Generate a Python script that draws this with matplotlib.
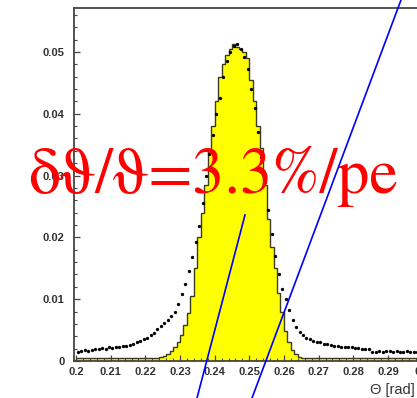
import numpy as np
import matplotlib
matplotlib.use('Agg')
import matplotlib.pyplot as plt
from matplotlib.lines import Line2D

# Cherenkov angle distribution, 1 mrad bins from 0.200 to 0.300 rad
theta_lo = 0.200
theta_hi = 0.300

# yellow histogram (single photon, selected)
hist_vals = [
    0.0005, 0.0005, 0.0005, 0.0005, 0.0005, 0.0005, 0.0005, 0.0005, 0.0005, 0.0005,  # 0.200
    0.0005, 0.0005, 0.0005, 0.0005, 0.0005, 0.0005, 0.0005, 0.0005, 0.0005, 0.0005,  # 0.210
    0.0005, 0.0005, 0.0005, 0.0005, 0.0006, 0.0008, 0.0012, 0.0016, 0.0022, 0.0030,  # 0.220
    0.0042, 0.0058, 0.0078, 0.0105, 0.0150, 0.0200, 0.0240, 0.0285, 0.0340, 0.0380,  # 0.230
    0.0420, 0.0460, 0.0480, 0.0495, 0.0505, 0.0513, 0.0508, 0.0505, 0.0500, 0.0490,  # 0.240
    0.0455, 0.0420, 0.0380, 0.0345, 0.0285, 0.0230, 0.0185, 0.0150, 0.0110, 0.0080,  # 0.250
    0.0048, 0.0030, 0.0018, 0.0011, 0.0007, 0.0005, 0.0005, 0.0005, 0.0005, 0.0005,  # 0.260
    0.0005, 0.0005, 0.0005, 0.0005, 0.0005, 0.0005, 0.0005, 0.0005, 0.0005, 0.0005,  # 0.270
    0.0005, 0.0005, 0.0005, 0.0005, 0.0005, 0.0005, 0.0005, 0.0005, 0.0005, 0.0005,  # 0.280
    0.0005, 0.0005, 0.0005, 0.0005, 0.0005, 0.0005, 0.0005, 0.0005, 0.0005, 0.0005,  # 0.290
]

# black points (all photons)
dot_vals = [
    0.0015, 0.0016, 0.0017, 0.0016, 0.0018, 0.0019, 0.0020, 0.0021, 0.0020, 0.0022,  # 0.200
    0.0021, 0.0023, 0.0022, 0.0024, 0.0025, 0.0026, 0.0028, 0.0030, 0.0033, 0.0036,  # 0.210
    0.0038, 0.0042, 0.0046, 0.0051, 0.0056, 0.0061, 0.0066, 0.0072, 0.0080, 0.0092,  # 0.220
    0.0108, 0.0125, 0.0145, 0.0168, 0.0192, 0.0218, 0.0255, 0.0300, 0.0335, 0.0365,  # 0.230
    0.0400, 0.0425, 0.0460, 0.0485, 0.0500, 0.0510, 0.0512, 0.0505, 0.0492, 0.0472,  # 0.240
    0.0440, 0.0410, 0.0370, 0.0330, 0.0290, 0.0245, 0.0205, 0.0170, 0.0140, 0.0117,  # 0.250
    0.0100, 0.0082, 0.0066, 0.0055, 0.0047, 0.0042, 0.0038, 0.0035, 0.0033, 0.0031,  # 0.260
    0.0030, 0.0028, 0.0027, 0.0026, 0.0025, 0.0024, 0.0023, 0.0023, 0.0022, 0.0022,  # 0.270
    0.0021, 0.0021, 0.0020, 0.0020, 0.0019, 0.0015, 0.0015, 0.0016, 0.0015, 0.0016,  # 0.280
    0.0016, 0.0015, 0.0016, 0.0015, 0.0015, 0.0016, 0.0015, 0.0015, 0.0015, 0.0015,  # 0.290
]

x_ticks = [0.20, 0.21, 0.22, 0.23, 0.24, 0.25, 0.26, 0.27, 0.28, 0.29, 0.30]
x_ticklabels = ['0.2', '0.21', '0.22', '0.23', '0.24', '0.25', '0.26', '0.27', '0.28', '0.29', '0.3']
y_ticks = [0, 0.01, 0.02, 0.03, 0.04, 0.05]
y_ticklabels = ['0', '0.01', '0.02', '0.03', '0.04', '0.05']

resolution_text = 'δϑ/ϑ=3.3%/pe'
x_label = 'Θ [rad]'

W, H = 417, 398
fig = plt.figure(figsize=(W / 100, H / 100), dpi=100)

# axes runs off the right edge of the picture
ax = fig.add_axes([74 / W, 37 / H, 352 / W, 353 / H])

edges = np.linspace(theta_lo, theta_hi, len(hist_vals) + 1)
centers = 0.5 * (edges[1:] + edges[:-1])

ax.stairs(hist_vals, edges, fill=True, color='#ffff00', zorder=1)
ax.stairs(hist_vals, edges, color='#3c3c1c', lw=1.0, zorder=2)
ax.plot(centers, dot_vals, 'o', color='black', ms=2.4, mew=0, zorder=3)

ax.set_xlim(0.1994, 0.3010)
ax.set_ylim(0, 0.0571)

tick_font = {'family': ['Liberation Sans', 'DejaVu Sans'], 'weight': 'bold', 'size': 8}
ax.set_xticks(x_ticks)
ax.set_xticklabels(x_ticklabels, fontdict=tick_font, color='#333333')
ax.set_yticks(y_ticks)
ax.set_yticklabels(y_ticklabels, fontdict=tick_font, color='#333333')
ax.set_xticks(np.arange(0.2, 0.301, 0.002), minor=True)
ax.set_yticks(np.arange(0, 0.057, 0.002), minor=True)
ax.tick_params(which='both', direction='in', top=False, right=False, color='#444444')
ax.tick_params(which='major', length=4.5, width=0.9, pad=4)
ax.tick_params(which='minor', length=2.5, width=0.8)
ax.tick_params(axis='y', pad=7)
for sp in ax.spines.values():
    sp.set_color('#444444')
    sp.set_linewidth(1.3)

fig.text(370 / W, 1 - 394 / H, x_label, fontsize=10.5, color='#333333',
         family=['Liberation Sans', 'DejaVu Sans'])

fig.text(28 / W, 1 - 193 / H, resolution_text, color='#ff0000', fontsize=46,
         family=['STIXGeneral', 'Liberation Serif', 'DejaVu Serif'], va='baseline', zorder=5)

# blue guide lines drawn over the figure
blue_lines = [((401, 0), (252, 398)), ((245, 215), (197, 398))]
for (x0, y0), (x1, y1) in blue_lines:
    fig.add_artist(Line2D([x0 / W, x1 / W], [1 - y0 / H, 1 - y1 / H],
                          transform=fig.transFigure, color='#0000ff', lw=1.2, zorder=6))

fig.savefig('out.png', dpi=100)
